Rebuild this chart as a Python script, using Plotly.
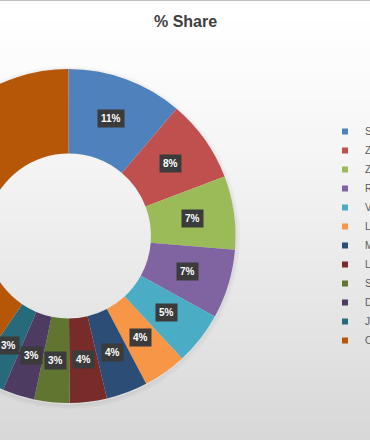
import math
import plotly.graph_objects as go

# ---- data ----
labels = ["Samsung", "ZIMMER", "ZIPCAR", "Ricoh", "Vivo", "LINKS", "Motorola",
          "Lenovo", "Sony", "Dell", "JABRA", "Others"]
shares = [11.2, 8.0, 7.1, 6.7, 5.1, 4.2, 4.0, 3.6, 3.4, 3.1, 3.1, 40.5]
colors = ["#4F81BD", "#C0504D", "#9BBB59", "#8064A2", "#4BACC6", "#F79646",
          "#2C4D75", "#772C2A", "#5F7530", "#4D3B62", "#276A7C", "#B65708"]
title_text = "% Share"

# ---- layout geometry (figure is wider than the window and shifted left) ----
W, H = 600, 440
OFF = 100            # px shifted out of view on the left
CX, CY, R = 68.5 + OFF, 236.0, 167.0
HOLE = 0.494

fig = go.Figure()
fig.add_trace(go.Pie(
    labels=labels, values=shares, sort=False, direction="clockwise", rotation=0,
    hole=HOLE, marker=dict(colors=colors, line=dict(width=0)),
    textinfo="none", hoverinfo="label+percent", showlegend=False,
    domain=dict(x=[(CX - R) / W, (CX + R) / W], y=[1 - (CY + R) / H, 1 - (CY - R) / H]),
))

# legend entries with small square markers
for name, c in zip(labels, colors):
    fig.add_trace(go.Scatter(x=[None], y=[None], mode="markers", name=name,
                             marker=dict(symbol="square", size=6, color=c), hoverinfo="skip"))

# data labels (dark boxes) at mid-ring of each slice
total = sum(shares)
rmid = R * (1 + HOLE) / 2
cum = 0.0
annos = []
for v in shares:
    th = 2 * math.pi * (cum + v / 2) / total
    cum += v
    xp = CX + rmid * math.sin(th)
    yp = CY - rmid * math.cos(th)
    annos.append(dict(x=xp / W, y=1 - yp / H, xref="paper", yref="paper",
                      text=f"<b>{round(v / total * 100)}%</b>", showarrow=False,
                      font=dict(family="Liberation Sans", size=10, color="white"),
                      bgcolor="#3b3b3b", borderpad=3, xanchor="center", yanchor="middle"))
annos.append(dict(x=(185 + OFF) / W, y=1 - 21 / H, xref="paper", yref="paper",
                  text=f"<b>{title_text}</b>", showarrow=False,
                  font=dict(family="Liberation Sans", size=16, color="#404040"),
                  xanchor="center", yanchor="middle"))

# background vertical gradient
shapes = []
N = 44
for i in range(N):
    t = (i + 0.5) / N
    g = int(round(255 - 40 * t ** 1.3))
    shapes.append(dict(type="rect", xref="paper", yref="paper", x0=0, x1=1,
                       y0=1 - (i + 1) / N, y1=1 - i / N, fillcolor=f"rgb({g},{g},{g})",
                       line=dict(width=0), layer="below"))
# soft shadow around the ring (outline circles only)
for k in range(1, 6):
    r = R + k - 0.5
    cyk = CY + 1.5
    shapes.append(dict(type="circle", xref="paper", yref="paper",
                       x0=(CX - r) / W, x1=(CX + r) / W,
                       y0=1 - (cyk + r) / H, y1=1 - (cyk - r) / H,
                       line=dict(width=1, color=f"rgba(0,0,0,{0.09 - 0.015 * k:.3f})"),
                       layer="below"))
shapes.append(dict(type="line", xref="paper", yref="paper", x0=0, x1=1,
                   y0=1 - 0.5 / H, y1=1 - 0.5 / H, line=dict(color="#bfbfbf", width=1)))

fig.update_layout(
    width=W, height=H, margin=dict(l=0, r=0, t=0, b=0),
    paper_bgcolor="white", plot_bgcolor="rgba(0,0,0,0)",
    xaxis=dict(visible=False), yaxis=dict(visible=False),
    shapes=shapes, annotations=annos,
    legend=dict(x=(345 - 20 + OFF) / W, xanchor="left", y=1 - 236 / H, yanchor="middle",
                font=dict(family="Liberation Sans", size=10, color="#595959"),
                bgcolor="rgba(0,0,0,0)", itemclick=False, itemdoubleclick=False),
)

post = (
    "var gd=document.getElementById('{plot_id}');"
    "document.body.style.margin='0';document.body.style.overflow='hidden';"
    f"gd.style.marginLeft='-{OFF}px';"
)
fig.write_html("out.html", config={"displayModeBar": False}, post_script=post)
